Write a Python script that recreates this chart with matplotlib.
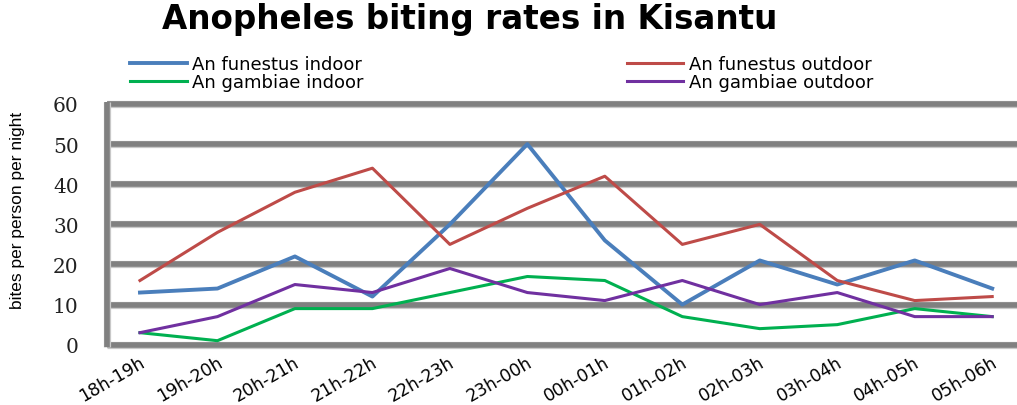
import matplotlib
matplotlib.use("Agg")
import matplotlib.pyplot as plt
import matplotlib.transforms as mtransforms
import numpy as np

# data
hours = ["18h-19h", "19h-20h", "20h-21h", "21h-22h", "22h-23h", "23h-00h",
         "00h-01h", "01h-02h", "02h-03h", "03h-04h", "04h-05h", "05h-06h"]
funestus_indoor = [13, 14, 22, 12, 30, 50, 26, 10, 21, 15, 21, 14]
funestus_outdoor = [16, 28, 38, 44, 25, 34, 42, 25, 30, 16, 11, 12]
gambiae_indoor = [3, 1, 9, 9, 13, 17, 16, 7, 4, 5, 9, 7]
gambiae_outdoor = [3, 7, 15, 13, 19, 13, 11, 16, 10, 13, 7, 7]
y_ticks = [0, 10, 20, 30, 40, 50, 60]

W, H = 1017, 406
fig = plt.figure(figsize=(W / 100, H / 100), dpi=100)

# axes spans from left spine to the right edge of the picture
left_px, zero_px, top_px = 106.5, 345.7, 105.0
ax = fig.add_axes([left_px / W, (H - zero_px) / H,
                   (W - left_px) / W, (zero_px - top_px) / H])
ax.set_xlim(-0.432, 11.32)
ax.set_ylim(0, 60)
ax.patch.set_visible(False)
for s in ax.spines.values():
    s.set_visible(False)

# thick gray grid bands incl. the left/bottom frame
band_kw = dict(clip_on=False, zorder=1, solid_capstyle="butt")
for yv in y_ticks:
    ax.plot([-0.432, 11.32], [yv, yv], color="#c8c8c8", lw=5.2, **band_kw)
    ax.plot([-0.432, 11.32], [yv, yv], color="#808080", lw=4.0, **band_kw)
ax.plot([-0.432, -0.432], [-0.6, 60.6], color="#c8c8c8", lw=5.2, **band_kw)
ax.plot([-0.432, -0.432], [-0.6, 60.6], color="#808080", lw=4.0, **band_kw)

x = np.arange(len(hours))
ax.plot(x, funestus_indoor, color="#4a7ebb", lw=2.8, label="An funestus indoor", zorder=3)
ax.plot(x, gambiae_indoor, color="#00b050", lw=2.2, label="An gambiae indoor", zorder=3)
ax.plot(x, funestus_outdoor, color="#be4b48", lw=2.2, label="An funestus outdoor", zorder=3)
ax.plot(x, gambiae_outdoor, color="#7030a0", lw=2.2, label="An gambiae outdoor", zorder=3)

ax.set_yticks(y_ticks)
ax.set_yticklabels([str(v) for v in y_ticks], family="DejaVu Serif", fontsize=14.5, color="#222222")
ax.tick_params(axis="y", length=0, pad=20)
ax.set_xticks(x)
ax.set_xticklabels(hours, rotation=30, ha="right", va="top", rotation_mode="anchor",
                   family="DejaVu Sans", fontsize=12.5)
ax.tick_params(axis="x", length=0, pad=6)
shift = mtransforms.ScaledTranslation(-1 / 100, 0, fig.dpi_scale_trans)
for lab in ax.get_xticklabels():
    lab.set_transform(lab.get_transform() + shift)

fig.text(18 / W, 1 - 210 / H, "bites per person per night", rotation=90,
         ha="center", va="center", fontsize=12.5,
         family=["Liberation Sans Narrow", "Liberation Sans"])

fig.text(470 / W, 1 - 20 / H, "Anopheles biting rates in Kisantu",
         ha="center", va="center", fontsize=23.5, fontweight="bold")

h, l = ax.get_legend_handles_labels()
fig.legend(h, l, ncol=2, loc="upper left", bbox_to_anchor=(130 / W, 1 - 56 / H),
           frameon=False, fontsize=13, handlelength=3.15, handletextpad=0.3,
           columnspacing=14.55, labelspacing=0.0, borderpad=0, borderaxespad=0)

fig.savefig("out.png", dpi=100)
